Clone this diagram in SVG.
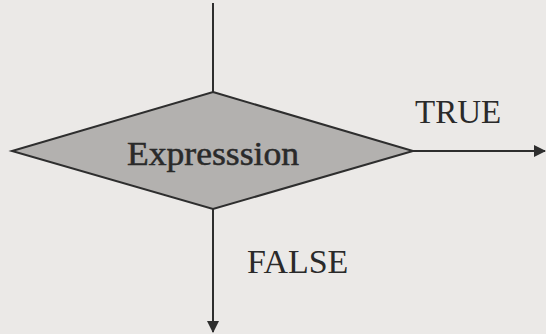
<svg xmlns="http://www.w3.org/2000/svg" width="546" height="334" viewBox="0 0 546 334">
<style>
.ln{stroke:#2e2e2e;stroke-width:2;fill:none}
text{font-family:"Liberation Serif","Times New Roman",Times,serif;fill:#2a2a2a}
</style>
<defs>
<marker id="ah" viewBox="0 0 12 12" refX="11" refY="6" markerWidth="12" markerHeight="12" markerUnits="userSpaceOnUse" orient="auto">
<path d="M0,0 L12,6 L0,12 z" fill="#2e2e2e"/>
</marker>
</defs>
<rect width="546" height="334" fill="#ebe9e7"/>
<g id="connectors">
<line class="ln" x1="213" y1="3" x2="213" y2="92"/>
<line class="ln" x1="413" y1="151" x2="545" y2="151" marker-end="url(#ah)"/>
<line class="ln" x1="213" y1="209" x2="213" y2="332" marker-end="url(#ah)"/>
</g>
<g id="decision">
<polygon points="213,92 413,151 213,209 12,151" fill="#b3b1af" stroke="#2e2e2e" stroke-width="2"/>
<text x="213" y="165" font-family="Liberation Serif, serif" font-size="33" text-anchor="middle" textLength="172" lengthAdjust="spacingAndGlyphs" stroke="#2a2a2a" stroke-width="0.5">Expresssion</text>
</g>
<g id="label-true">
<text x="415" y="123" font-family="Liberation Serif, serif" font-size="33">TRUE</text>
</g>
<g id="label-false">
<text x="247" y="273" font-family="Liberation Serif, serif" font-size="34">FALSE</text>
</g>
</svg>
